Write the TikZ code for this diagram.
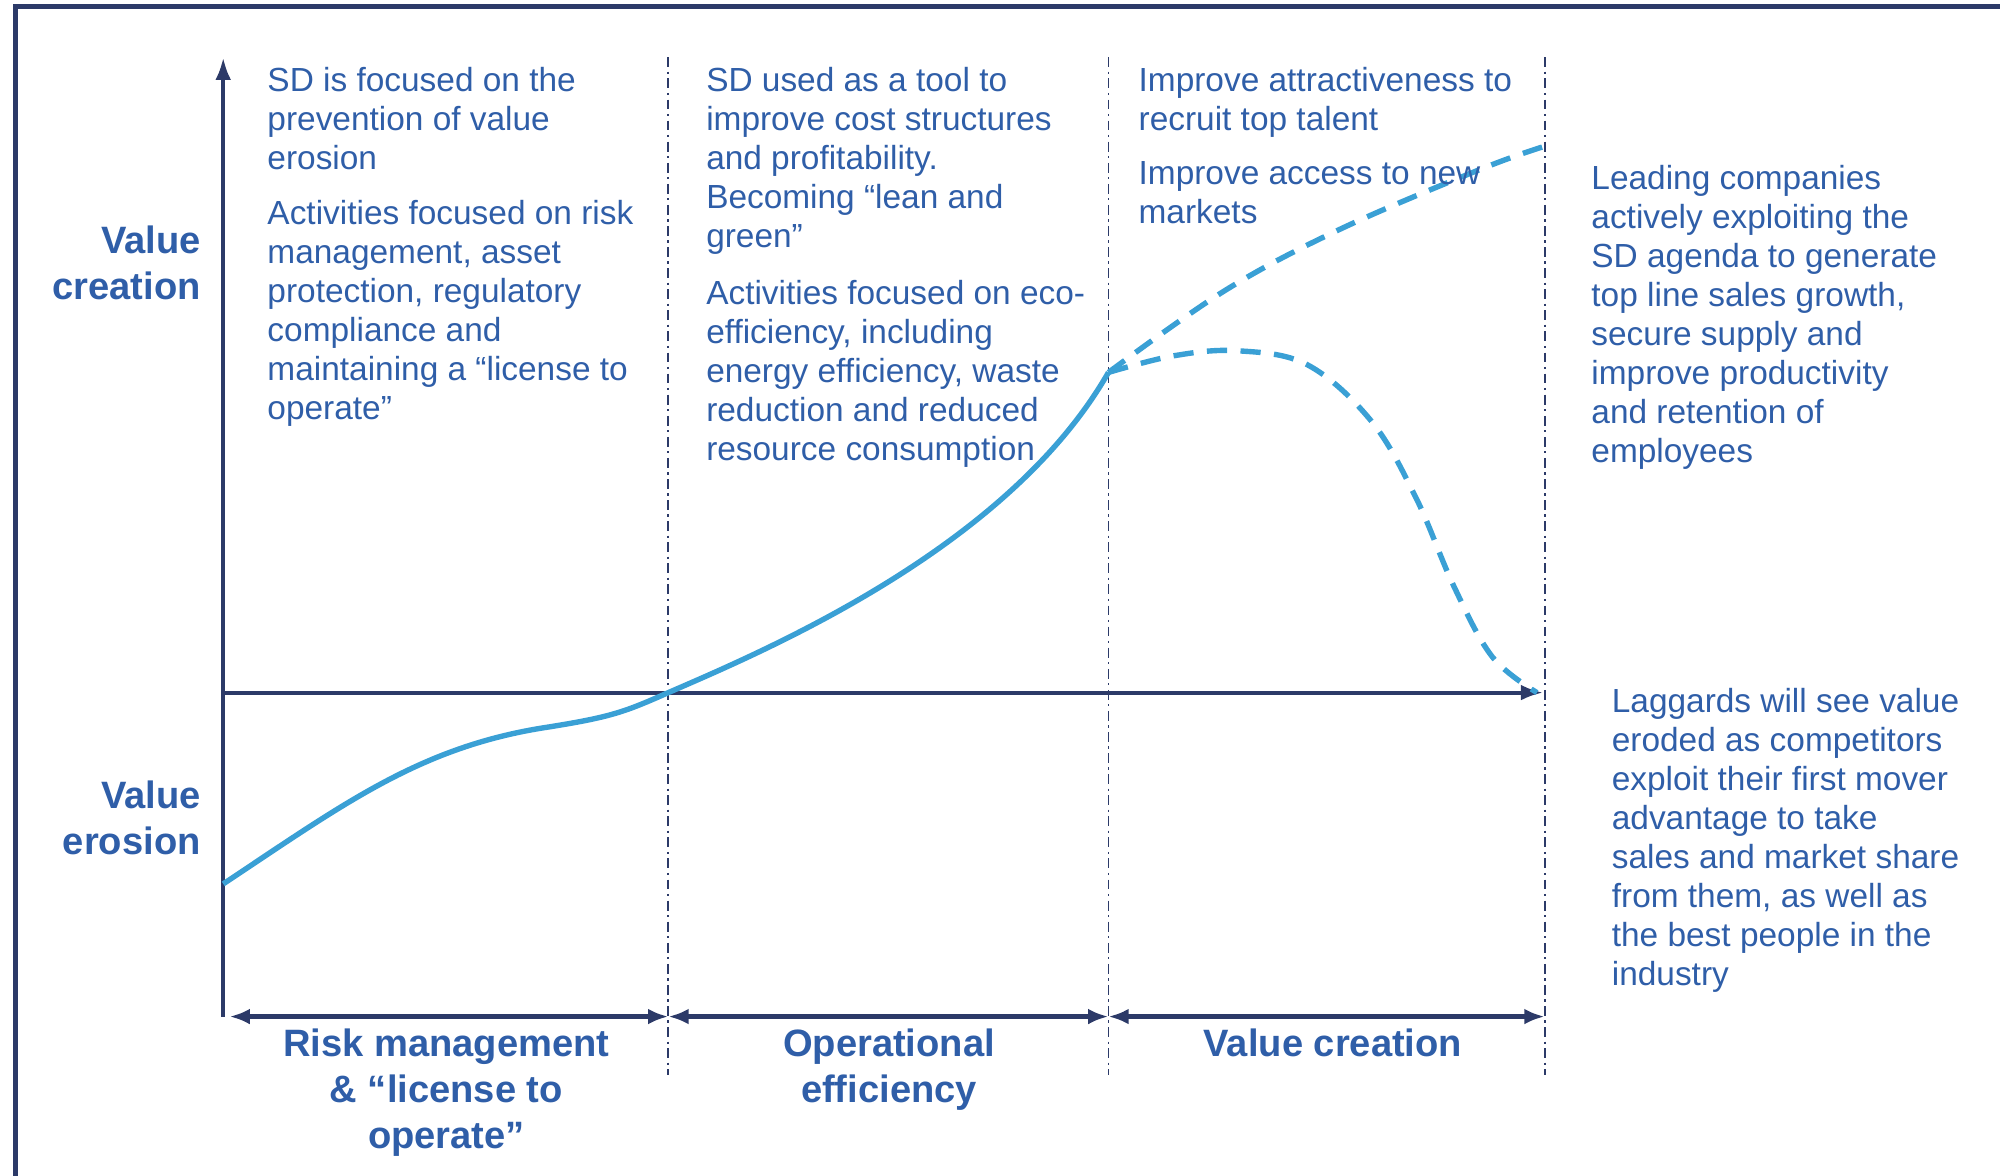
\documentclass[tikz,border=0pt]{standalone}
\usepackage{fontspec}
\setmainfont{Liberation Sans}
\usetikzlibrary{arrows.meta}
\definecolor{txtblue}{RGB}{47,94,168}
\definecolor{axisnavy}{RGB}{44,58,104}
\definecolor{curveblue}{RGB}{58,160,213}
\tikzset{
  body/.style={anchor=north west, inner sep=0pt, align=left, text=txtblue, font=\fontsize{7.45}{8.7}\selectfont},
  lbl/.style={inner sep=0pt, text=txtblue, font=\fontsize{8.5}{10.3}\selectfont\bfseries},
  divider/.style={axisnavy, line width=0.4pt, dash pattern=on 2.2pt off 1pt on 0.5pt off 1pt},
  axisline/.style={axisnavy, line width=0.9pt},
  phase/.style={axisnavy, line width=1.1pt, {Latex[length=4.5pt,width=3.5pt]}-{Latex[length=4.5pt,width=3.5pt]}},
  trend/.style={curveblue, line width=1.2pt},
  scenario/.style={trend, dash pattern=on 4.5pt off 3pt}
}
\begin{document}
\begin{tikzpicture}[x=0.01cm, y=-0.01cm]
\useasboundingbox (0,0) rectangle (1568,922);
\draw[axisnavy, line width=1pt] (12,922) -- (12,5) -- (1568,5);
\coordinate (O) at (175,543);
\coordinate (ytop) at (175,45);
\coordinate (ybot) at (175,797);
\coordinate (xend) at (1210,543);
\coordinate (low) at (175,693);
\coordinate (cross) at (524,543);
\coordinate (split) at (869,292);
\foreach \x/\n in {524/1, 869/2, 1211/3}{
  \coordinate (top\n) at (\x,45);
  \coordinate (bot\n) at (\x,843);
  \coordinate (arr\n) at (\x,797);
  \draw[divider] (top\n) -- (bot\n);
}
\coordinate (arr0) at (180,797);
\draw[axisline, -{Latex[length=5pt,width=3.5pt]}] (ybot) -- (ytop);
\draw[axisline, -{Latex[length=5pt,width=3.5pt]}] (O) -- (xend);
\draw[phase] (arr0) -- (arr1);
\draw[phase] (arr1) -- (arr2);
\draw[phase] (arr2) -- (arr3);
\draw[trend] (low) .. controls (270,630) and (330,585) .. (430,570) .. controls (480,562) and (490,558) .. (cross) .. controls (600,510) and (790,430) .. (split);
\draw[scenario] plot[smooth, tension=0.6] coordinates {(869,292) (960,228) (1050,180) (1160,133) (1210,115)};
\draw[scenario] plot[smooth, tension=0.6] coordinates {(869,292) (920,279) (970,275) (1025,286) (1075,330) (1110,390) (1140,460) (1170,515) (1205,543)};
\node[lbl, anchor=east, align=right] (vcre) at (158,206) {Value\\creation};
\node[lbl, anchor=east, align=right] (vero) at (158,641) {Value\\erosion};
\node[body] (c1a) at (209,52) {SD is focused on the\\prevention of value\\erosion};
\node[body] (c1b) at (209,156) {Activities focused on risk\\management, asset\\protection, regulatory\\compliance and\\maintaining a “license to\\operate"};
\node[body] (c2a) at (553,52) {SD used as a tool to\\improve cost structures\\and profitability.\\Becoming “lean and\\green"};
\node[body] (c2b) at (553,219) {Activities focused on eco-\\efficiency, including\\energy efficiency, waste\\reduction and reduced\\resource consumption};
\node[body] (c3a) at (892,52) {Improve attractiveness to\\recruit top talent};
\node[body] (c3b) at (892,126) {Improve access to new\\markets};
\node[body] (lead) at (1247,129) {Leading companies\\actively exploiting the\\SD agenda to generate\\top line sales growth,\\secure supply and\\improve productivity\\and retention of\\employees};
\node[body] (lag) at (1263,539) {Laggards will see value\\eroded as competitors\\exploit their first mover\\advantage to take\\sales and market share\\from them, as well as\\the best people in the\\industry};
\node[lbl, anchor=north, align=center] (risk) at (350,806) {Risk management\\\& “license to\\operate”};
\node[lbl, anchor=north, align=center] (opeff) at (697,806) {Operational\\efficiency};
\node[lbl, anchor=north, align=center] (vcbot) at (1045,806) {Value creation};
\end{tikzpicture}
\end{document}
